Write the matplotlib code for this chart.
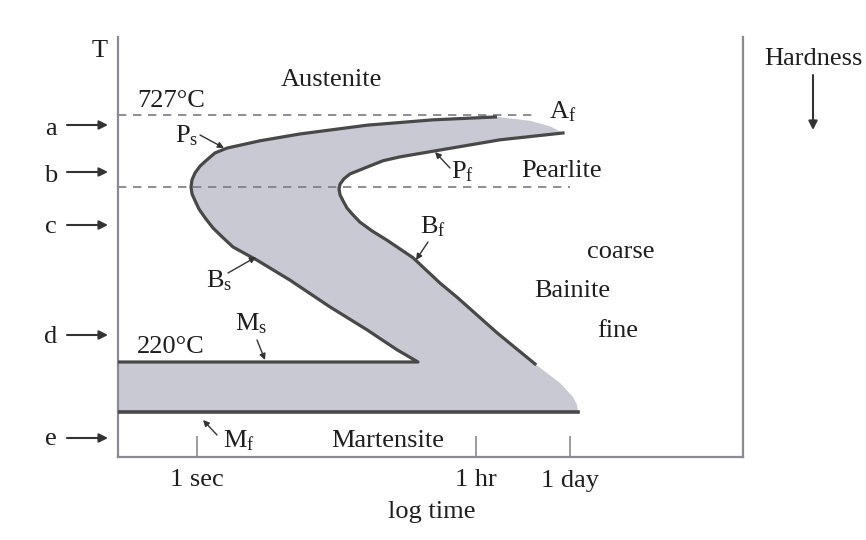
import matplotlib
matplotlib.use("Agg")
import matplotlib.pyplot as plt

# ---------------- data (log10 time in s, temperature in C) ----------------
A1_temp = 727
nose_temp = 580
Ms_temp = 220
Mf_temp = 117

ps_time = [3.968, 3.122, 2.249, 1.362, 0.833, 0.397, 0.238, 0.132, 0.040, -0.026,
           -0.066, -0.079, -0.066, -0.026, 0.026, 0.106, 0.212, 0.331, 0.476, 0.794,
           1.230, 1.759, 2.249, 2.646, 2.923]
ps_temp = [723, 717, 706, 688, 674, 659, 649, 635, 622, 608,
           594, 579, 565, 551, 534, 516, 495, 477, 456, 429,
           388, 333, 286, 245, 220]

pf_time = [4.841, 4.008, 3.214, 2.685, 2.460, 2.249, 2.024, 1.944, 1.892, 1.878,
           1.892, 1.931, 1.984, 2.063, 2.156, 2.315, 2.513, 2.857, 3.214, 3.439,
           3.968, 4.471]
pf_temp = [690, 676, 655, 641, 633, 620, 606, 596, 585, 575,
           563, 551, 536, 522, 507, 489, 470, 434, 382, 353,
           280, 216]

tail_time = [4.802, 4.974, 5.026, 5.04]
tail_temp = [177, 148, 132, 117]

tip_time = [4.669, 4.405]
tip_temp = [704, 715]

x_min, x_max = -1.045, 7.222
y_min, y_max = 25, 887
A1_end = 4.444
nose_end = 4.934

tick_pos = [0.0, 3.69, 4.93]
tick_labels = ["1 sec", "1 hr", "1 day"]

# ---------------- style ----------------
plt.rcParams['font.family'] = ['Liberation Serif', 'DejaVu Serif']
plt.rcParams['mathtext.fontset'] = 'custom'
plt.rcParams['mathtext.rm'] = 'Liberation Serif'
plt.rcParams['mathtext.it'] = 'Liberation Serif:italic'

W, H = 866, 540
FS = 19
TXT = '#1e1e1e'
CURVE = '#484848'
AXC = '#8a8a94'
FILL = '#c9c9d4'

fig = plt.figure(figsize=(W / 100, H / 100), dpi=100)
ax = fig.add_axes([118 / W, 1 - 457 / H, 625 / W, 420 / H])
ax.set_xlim(x_min, x_max)
ax.set_ylim(y_min, y_max)

for s in ['left', 'bottom', 'right']:
    ax.spines[s].set_color(AXC)
    ax.spines[s].set_linewidth(1.6)
ax.spines['top'].set_visible(False)
ax.set_yticks([])
ax.set_xticks(tick_pos)
ax.set_xticklabels(tick_labels, fontsize=FS, color=TXT)
ax.tick_params(axis='x', direction='in', length=15, width=1.2, color=AXC, pad=9)

# fill polygon
poly_x = (ps_time + [x_min, x_min, tail_time[-1]]
          + tail_time[::-1][1:] + pf_time[::-1] + tip_time + [ps_time[0]])
poly_y = (ps_temp + [Ms_temp, Mf_temp, Mf_temp]
          + tail_temp[::-1][1:] + pf_temp[::-1] + tip_temp + [ps_temp[0]])
ax.fill(poly_x, poly_y, color=FILL, lw=0, zorder=1)

# dashed lines
ax.plot([x_min, A1_end], [A1_temp, A1_temp], ls=(0, (5, 4)), color='#7a7a84', lw=1.2, zorder=2)
ax.plot([x_min, nose_end], [nose_temp, nose_temp], ls=(0, (5, 4)), color='#7a7a84', lw=1.2, zorder=2)

# curves
ax.plot(ps_time + [x_min], ps_temp + [Ms_temp], color=CURVE, lw=2.3, zorder=3,
        solid_joinstyle='round', solid_capstyle='butt')
ax.plot(pf_time, pf_temp, color=CURVE, lw=2.3, zorder=3, solid_joinstyle='round')
ax.plot([x_min, tail_time[-1]], [Mf_temp, Mf_temp], color=CURVE, lw=2.6, zorder=3)


def P(x, y):
    return (x / W, 1 - y / H)


def txt(x, y, s, ha='left', va='baseline', fs=FS):
    fig.text(*P(x, y), s, ha=ha, va=va, fontsize=fs, color=TXT)


def arrow(x0, y0, x1, y1, lw=1.2, ms=11):
    ax.annotate('', xy=P(x1, y1), xytext=P(x0, y0),
                xycoords='figure fraction', textcoords='figure fraction',
                arrowprops=dict(arrowstyle='-|>', color='#333333', lw=lw,
                                mutation_scale=ms, shrinkA=0, shrinkB=0))


# region labels
txt(100, 57, "T", ha='center')
txt(137, 107, "727°C")
txt(331, 86, "Austenite", ha='center')
txt(562, 177, "Pearlite", ha='center')
txt(621, 258, "coarse", ha='center')
txt(572, 297, "Bainite", ha='center')
txt(618, 337, "fine", ha='center')
txt(137, 353, "220°C")
txt(388, 447, "Martensite", ha='center')
txt(432, 518, "log time", ha='center')
txt(813, 65, "Hardness", ha='center')

# curve labels
txt(549, 118, r"A$_\mathrm{f}$")
txt(175, 142, r"P$_\mathrm{s}$")
txt(451, 178, r"P$_\mathrm{f}$")
txt(420, 233, r"B$_\mathrm{f}$")
txt(206, 287, r"B$_\mathrm{s}$")
txt(235, 330, r"M$_\mathrm{s}$")
txt(223, 447, r"M$_\mathrm{f}$")

# pointer arrows
arrow(200, 135, 224, 148, lw=1.0, ms=9)
arrow(450, 168, 435, 152, lw=1.0, ms=9)
arrow(428, 242, 416, 260, lw=1.0, ms=9)
arrow(228, 273, 256, 257, lw=1.0, ms=9)
arrow(257, 340, 265, 360, lw=1.0, ms=9)
arrow(217, 435, 203, 420, lw=1.0, ms=9)

# left side temperature markers
letters = ['a', 'b', 'c', 'd', 'e']
letter_base = [135, 182, 233, 343, 445]
arrow_y = [125, 172, 225, 335, 438]
for l, b, yy in zip(letters, letter_base, arrow_y):
    txt(51, b, l, ha='center')
    arrow(67, yy, 108, yy, lw=1.5, ms=13)

# hardness arrow
arrow(813, 75, 813, 130, lw=1.5, ms=13)

fig.savefig("out.png", dpi=100, facecolor='white')
